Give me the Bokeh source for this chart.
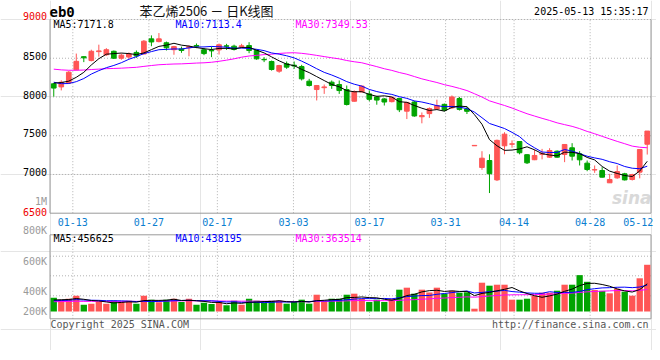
from bokeh.plotting import figure
from bokeh.models import Range1d, Label, ColumnDataSource
from bokeh.embed import file_html
from bokeh.resources import INLINE
import numpy as np

# ---------------- data ----------------
dates = ["01-08", "01-09", "01-10", "01-13", "01-14", "01-15", "01-16", "01-17", "01-20", "01-21",
         "01-22", "01-23", "01-24", "01-27", "02-05", "02-06", "02-07", "02-10", "02-11", "02-12",
         "02-13", "02-14", "02-17", "02-18", "02-19", "02-20", "02-21", "02-24", "02-25", "02-26",
         "02-27", "02-28", "03-03", "03-04", "03-05", "03-06", "03-07", "03-10", "03-11", "03-12",
         "03-13", "03-14", "03-17", "03-18", "03-19", "03-20", "03-21", "03-24", "03-25", "03-26",
         "03-27", "03-28", "03-31", "04-01", "04-02", "04-03", "04-07", "04-08", "04-09", "04-10",
         "04-11", "04-14", "04-15", "04-16", "04-17", "04-18", "04-21", "04-22", "04-23", "04-24",
         "04-25", "04-28", "04-29", "04-30", "05-06", "05-07", "05-08", "05-09", "05-12", "05-13"]

opens = [8170, 8130, 8180, 8350, 8520, 8470, 8585, 8545, 8590, 8500,
         8515, 8575, 8555, 8750, 8715, 8700, 8610, 8620, 8635, 8665,
         8610, 8600, 8608, 8660, 8656, 8650, 8664, 8600, 8485, 8458,
         8333, 8428, 8410, 8393, 8204, 8096, 8120, 8191, 8161, 8096,
         7945, 8065, 8040, 8000, 7975, 7940, 7980, 7817, 7935, 7745,
         7785, 7845, 7905, 7860, 7980, 7845, 7370, 7090, 7180, 6930,
         7370, 7390, 7425, 7255, 7190, 7260, 7223, 7300, 7258, 7344,
         7266, 7146, 7058, 7051, 6892, 6956, 7008, 6935, 7030, 7390]
highs = [8180, 8215, 8335, 8560, 8525, 8610, 8675, 8630, 8600, 8560,
         8575, 8600, 8735, 8795, 8825, 8715, 8660, 8650, 8665, 8690,
         8630, 8651, 8690, 8686, 8675, 8686, 8707, 8610, 8514, 8470,
         8415, 8458, 8458, 8415, 8234, 8155, 8161, 8213, 8213, 8148,
         8085, 8150, 8085, 8015, 7985, 8000, 7990, 7935, 7950, 7800,
         7865, 7965, 7915, 8020, 8000, 7875, 7378, 7300, 7260, 7450,
         7545, 7440, 7430, 7262, 7320, 7330, 7339, 7310, 7390, 7404,
         7300, 7180, 7116, 7094, 7008, 7116, 7021, 7008, 7322, 7560]
lows = [8005, 8085, 8175, 8345, 8450, 8460, 8520, 8530, 8490, 8480,
        8495, 8505, 8550, 8655, 8705, 8600, 8545, 8570, 8525, 8630,
        8540, 8514, 8548, 8608, 8600, 8630, 8565, 8480, 8450, 8340,
        8312, 8363, 8363, 8213, 8135, 7955, 8040, 8105, 8040, 7890,
        7940, 8060, 7945, 7900, 7890, 7930, 7805, 7715, 7745, 7660,
        7730, 7840, 7815, 7845, 7825, 7780, 7368, 7060, 6760, 6915,
        7260, 7345, 7260, 7135, 7185, 7195, 7215, 7215, 7159, 7180,
        7116, 7042, 7021, 6960, 6890, 6944, 6922, 6922, 6950, 7257]
closes = [8115, 8190, 8320, 8460, 8505, 8590, 8595, 8610, 8500, 8540,
          8555, 8530, 8720, 8710, 8750, 8635, 8650, 8600, 8650, 8655,
          8560, 8595, 8673, 8655, 8613, 8660, 8600, 8492, 8480, 8355,
          8406, 8385, 8400, 8234, 8148, 8148, 8130, 8148, 8083, 7903,
          8070, 8140, 7970, 7960, 7935, 7995, 7835, 7930, 7755, 7760,
          7850, 7890, 7830, 8000, 7840, 7815, 7375, 7210, 7010, 7440,
          7520, 7395, 7280, 7150, 7245, 7272, 7309, 7223, 7387, 7236,
          7189, 7064, 7062, 6965, 6935, 7038, 6930, 6999, 7322, 7560]
volumes = [228000, 195000, 211000, 261000, 112000, 129000, 157000, 129000, 178000, 157000,
           178000, 129000, 261000, 195000, 152000, 195000, 211000, 157000, 211000, 112000,
           145000, 124000, 157000, 102000, 178000, 112000, 211000, 178000, 145000, 178000,
           178000, 129000, 157000, 195000, 129000, 277000, 168000, 211000, 211000, 277000,
           294000, 206000, 157000, 195000, 157000, 211000, 360000, 393000, 294000, 360000,
           314000, 393000, 294000, 343000, 310000, 317000, 46000, 475000, 426000, 442000,
           442000, 195000, 195000, 211000, 261000, 310000, 310000, 343000, 442000, 442000,
           600000, 490000, 355000, 340000, 300000, 376000, 327000, 261000, 548000, 771000]

# sessions before the first visible candle (only feed the moving averages)
pre_close = [8460, 8480, 8450, 8420, 8400, 8430, 8440, 8410, 8430, 8390,
             8370, 8360, 8375, 8450, 8480, 8520, 8540, 8510, 8490, 8459,
             8380, 8300, 8220, 8100, 8015, 8150, 8230, 8210, 8186]
pre_vol = [150000, 170000, 140000, 160000, 135000, 155000, 180000, 145000, 150000, 165000,
           140000, 160000, 150000, 175000, 145000, 155000, 140000, 165000, 150000, 154000,
           160000, 170000, 150000, 180000, 166000, 175000, 190000, 182000, 175000]

tick_labels = ["01-13", "01-27", "02-17", "03-03", "03-17", "03-31", "04-14", "04-28", "05-12"]
price_ticks = [7000, 7500, 8000, 8500]
price_top, price_bottom = 9000, 6500
vol_labels = ["800K", "600K", "400K", "200K"]
title_text = "苯乙烯2506 － 日K线图"
code_text = "eb0"
time_text = "2025-05-13 15:35:17"
ma_price_text = ["MA5:7171.8", "MA10:7113.4", "MA30:7349.53"]
ma_vol_text = ["MA5:456625", "MA10:438195", "MA30:363514"]

# ---------------- derived ----------------
n = len(dates)
x = np.arange(n) + 0.5


def ma(pre, vals, w):
    full = np.array(pre + vals, dtype=float)
    out = np.convolve(full, np.ones(w) / w, mode="valid")
    return out[-len(vals):]


RED = "#ff5555"
GREEN = "#00a400"
colors = [RED if c >= o else GREEN for o, c in zip(opens, closes)]
src = ColumnDataSource(dict(
    x=x, o=opens, h=highs, l=lows, c=closes,
    top=np.maximum(opens, closes), bot=np.minimum(opens, closes),
    vol=volumes, color=colors,
    ma5=ma(pre_close, closes, 5), ma10=ma(pre_close, closes, 10), ma30=ma(pre_close, closes, 30),
    vma5=ma(pre_vol, volumes, 5), vma10=ma(pre_vol, volumes, 10), vma30=ma(pre_vol, volumes, 30),
))

# Sina places its date grid lines with a spacing of width/(n-1)
grid_pos = [dates.index(t) * n / (n - 1) for t in tick_labels]
label_pos = [min(g, n - 1.7) for g in grid_pos]
grid_drawn = [g for g in grid_pos if g < n - 1.5]

# ---------------- page geometry (pixels) ----------------
W, H = 656, 350
CH_L, CH_R = 49.5, 650.5          # chart left / right edge
P_TOP, P_BOT = 19.0, 212.7        # price chart top / bottom
V_TOP, V_BOT, V_BASE = 234.3, 318.3, 311.0
slot = (CH_R - CH_L) / n
ppx = (price_top - price_bottom) / (P_BOT - P_TOP)   # price per pixel
PX = 16500                                          # volume per pixel


def fx(px):
    return (px - CH_L) / slot


def fy(py):
    return price_top - (py - P_TOP) * ppx


def vy(py):
    return (V_BASE - py) * PX


MONO = "DejaVu Sans Mono"
GRID = "#b2b2b2"
BORDER = "#9a9a9a"

p = figure(frame_width=W, frame_height=H, x_range=Range1d(fx(0), fx(W)),
           y_range=Range1d(fy(H), fy(0)), extra_y_ranges={"vol": Range1d(vy(H), vy(0))},
           output_backend="svg", toolbar_location=None, x_axis_location=None,
           y_axis_location=None, min_border=0)
p.background_fill_color = "white"
p.border_fill_color = "white"
p.outline_line_color = None


def label(xx, yy, text, color, align="left", size="10px", font=MONO, style="normal",
          rng="default", level="annotation"):
    p.add_layout(Label(x=xx, y=yy, text=text, text_align=align, text_baseline="middle",
                       text_color=color, text_font=font, text_font_size=size,
                       text_font_style=style, y_range_name=rng, level=level))


# ---------- price panel ----------
p.segment(x0=grid_drawn, y0=price_bottom, x1=grid_drawn, y1=price_top,
          line_color=GRID, line_dash="1 2", line_width=1)
p.segment(x0=0, y0=price_ticks + [price_top], x1=n, y1=price_ticks + [price_top],
          line_color=GRID, line_dash="1 2", line_width=1)
p.segment(x0=[0, n, 0], y0=[price_bottom, price_bottom, price_bottom],
          x1=[0, n, n], y1=[price_top, price_top, price_bottom],
          line_color=BORDER, line_width=1)

label(fx(651), fy(197), "sina", "#d9d9d9", align="right", size="17px", font="DejaVu Sans",
      style="bold italic", level="underlay")

p.segment(x0="x", y0="l", x1="x", y1="h", line_color="color", line_width=1, source=src)
p.vbar(x="x", width=0.62, top="top", bottom="bot", fill_color="color", line_color="color",
       line_width=1, source=src)
p.line("x", "ma30", line_color="#ff00ff", line_width=1, source=src)
p.line("x", "ma10", line_color="#0000ff", line_width=1, source=src)
p.line("x", "ma5", line_color="#000000", line_width=1, source=src)

lab_x = fx(46.5)
for t in price_ticks:
    label(lab_x, t + 2.3 * ppx, str(t), "#000000", align="right")
label(lab_x, fy(15.5), str(price_top), "#ee0000", align="right")
label(lab_x, fy(211.5), str(price_bottom), "#ee0000", align="right")
label(lab_x, fy(200.5), "1M", "#9a9a9a", align="right")

for pos, t in zip(label_pos, tick_labels):
    label(pos, fy(221.5), t, "#0a7ed0", align="center")

label(fx(49), fy(11), code_text, "#000000", size="14px", style="bold")
label(fx(206), fy(10), title_text, "#111111", align="center", size="13px",
      font="Noto Sans CJK SC")
label(fx(648), fy(11), time_text, "#000000", align="right")

for xx, txt, col in zip([53, 175, 295], ma_price_text, ["#000000", "#0000ff", "#ff00ff"]):
    label(fx(xx), fy(23.7), txt, col)

# ---------- volume panel ----------
p.segment(x0=grid_drawn, y0=vy(V_BOT), x1=grid_drawn, y1=vy(V_TOP), y_range_name="vol",
          line_color=GRID, line_dash="1 2", line_width=1)
v_grid_y = [vy(255.7), vy(275.3), vy(295.3)]
p.segment(x0=0, y0=v_grid_y, x1=n, y1=v_grid_y, y_range_name="vol",
          line_color=GRID, line_dash="1 2", line_width=1)
p.quad(left=0, right=n, bottom=vy(V_BOT), top=vy(V_TOP), y_range_name="vol",
       fill_color=None, line_color=BORDER, line_width=1)

p.vbar(x="x", width=0.84, top="vol", bottom=0, y_range_name="vol",
       fill_color="color", line_color=None, source=src)
p.line("x", "vma30", y_range_name="vol", line_color="#ff00ff", line_width=1, source=src)
p.line("x", "vma10", y_range_name="vol", line_color="#0000ff", line_width=1, source=src)
p.line("x", "vma5", y_range_name="vol", line_color="#000000", line_width=1, source=src)

for lbl, yy in zip(vol_labels, [230.0, 260.7, 290.7, 310.7]):
    label(lab_x, vy(yy), lbl, "#9a9a9a", align="right", rng="vol")

for xx, txt, col in zip([53, 175, 295], ma_vol_text, ["#000000", "#0000ff", "#ff00ff"]):
    label(fx(xx), vy(238.2), txt, col, rng="vol")

label(fx(50), vy(323.5), "Copyright 2025 SINA.COM", "#555555", rng="vol")
label(fx(648), vy(323.5), "http://finance.sina.com.cn", "#555555", align="right", rng="vol")

open("out.html", "w").write(file_html(p, INLINE))
